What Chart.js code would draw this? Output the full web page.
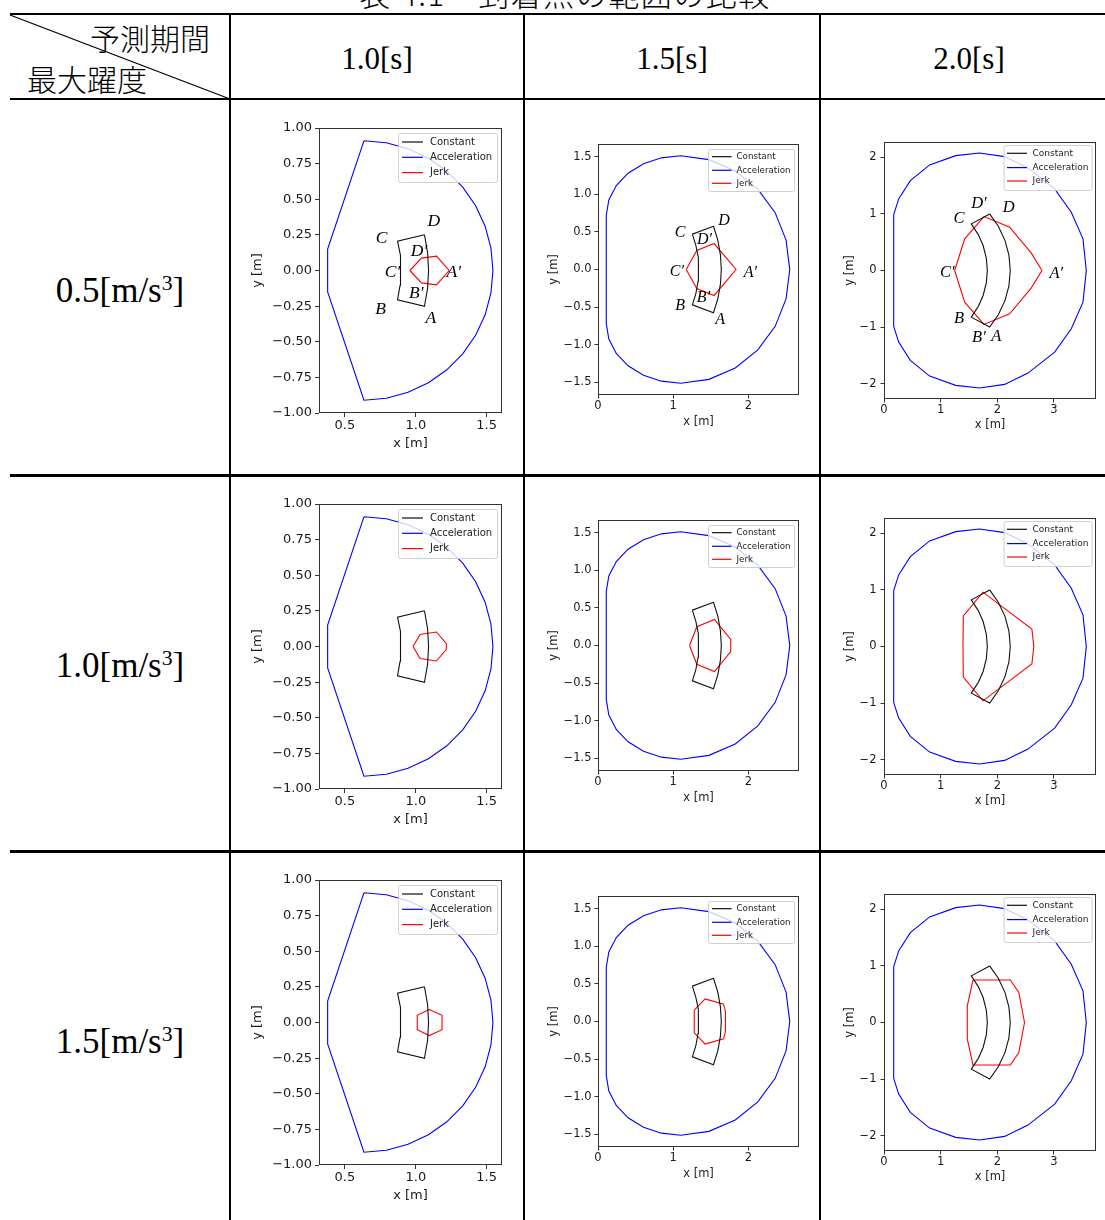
<!DOCTYPE html>
<html>
<head>
<meta charset="utf-8">
<script src="https://cdn.jsdelivr.net/npm/chart.js@4.4.0/dist/chart.umd.min.js"></script>
<style>
  body { margin: 0; width: 1105px; height: 1220px; position: relative; overflow: hidden; background: #fff; font-family: "Liberation Serif", serif; color: #000; }
  .hl { position: absolute; background: #000; }
  .vl { position: absolute; background: #000; width: 2px; top: 14px; height: 1206px; }
  .cell { position: absolute; font-size: 31px; line-height: 1; white-space: nowrap; transform: translate(-50%, -50%); }
  .cjk { position: absolute; font-family: "Noto Sans CJK JP", sans-serif; font-weight: 300; font-size: 30px; line-height: 30px; white-space: nowrap; }
  .sup { font-size: 0.62em; vertical-align: 0.55em; }
  canvas { position: absolute; }
</style>
</head>
<body>
<div class="cjk" style="left:565px; top:-22px; font-size:31px; letter-spacing:1.5px; transform:translateX(-50%);">表 4.1　到着点の範囲の比較</div>

<div class="hl" style="left:10px; top:13px; width:1095px; height:2px;"></div>
<div class="hl" style="left:10px; top:98px; width:1095px; height:2px;"></div>
<div class="hl" style="left:10px; top:474px; width:1095px; height:3px;"></div>
<div class="hl" style="left:10px; top:850px; width:1095px; height:3px;"></div>
<div class="vl" style="left:229px;"></div>
<div class="vl" style="left:523px;"></div>
<div class="vl" style="left:819px;"></div>
<svg style="position:absolute;left:0;top:0" width="240" height="110">
  <line x1="10" y1="15" x2="230" y2="99" stroke="#000" stroke-width="1.3"/>
</svg>
<div class="cjk" style="left:90px; top:22px;">予測期間</div>
<div class="cjk" style="left:27px; top:63px;">最大躍度</div>

<script>
// table headings
const periods = ['1.0[s]', '1.5[s]', '2.0[s]'];
const jerkLimits = ['0.5', '1.0', '1.5'];
const seriesNames = ['Constant', 'Acceleration', 'Jerk'];
const seriesColors = ['#111111', '#0000ff', '#ff0000'];

// axes for each prediction period
const xRange10 = [0.317, 1.608], yRange10 = [-1.0, 1.0];
const xTicks10 = [0.5, 1.0, 1.5];
const xTickLabels10 = ['0.5', '1.0', '1.5'];
const yTicks10 = [-1, -0.75, -0.5, -0.25, 0, 0.25, 0.5, 0.75, 1];
const yTickLabels10 = ['\u22121.00', '\u22120.75', '\u22120.50', '\u22120.25', '0.00', '0.25', '0.50', '0.75', '1.00'];

const xRange15 = [0, 2.673], yRange15 = [-1.667, 1.667];
const xTicks15 = [0, 1, 2];
const xTickLabels15 = ['0', '1', '2'];
const yTicks15 = [-1.5, -1, -0.5, 0, 0.5, 1, 1.5];
const yTickLabels15 = ['\u22121.5', '\u22121.0', '\u22120.5', '0.0', '0.5', '1.0', '1.5'];

const xRange20 = [0, 3.742], yRange20 = [-2.27, 2.27];
const xTicks20 = [0, 1, 2, 3];
const xTickLabels20 = ['0', '1', '2', '3'];
const yTicks20 = [-2, -1, 0, 1, 2];
const yTickLabels20 = ['\u22122', '\u22121', '0', '1', '2'];

// Constant model (same for every jerk limit)
const constT10 = [[1.061,0.251],[1.083,0.126],[1.09,0],[1.083,-0.126],[1.061,-0.251],
  [0.871,-0.206],[0.889,-0.104],[0.895,0],[0.889,0.104],[0.871,0.206],[1.061,0.251]];
const constT15 = [[1.536,0.574],[1.594,0.388],[1.628,0.195],[1.64,0],[1.628,-0.195],[1.594,-0.388],[1.536,-0.574],
  [1.255,-0.469],[1.302,-0.317],[1.33,-0.159],[1.34,0],[1.33,0.159],[1.302,0.317],[1.255,0.469],[1.536,0.574]];
const constT20 = [[1.865,1.0],[2.02,0.778],[2.135,0.532],[2.205,0.27],[2.229,0],[2.205,-0.27],[2.135,-0.532],[2.02,-0.778],[1.865,-1.0],
  [1.541,-0.824],[1.667,-0.63],[1.751,-0.437],[1.806,-0.221],[1.824,0],[1.806,0.221],[1.751,0.437],[1.667,0.63],[1.541,0.824],[1.865,1.0]];

// Acceleration model (same for every jerk limit)
const accelT10 = [[0.634,0.91],[0.378,0.15],[0.378,-0.15],[0.634,-0.91],
  [0.792,-0.896],[0.945,-0.855],[1.089,-0.788],[1.219,-0.697],[1.331,-0.585],[1.422,-0.455],[1.489,-0.311],[1.53,-0.158],
  [1.544,0],[1.53,0.158],[1.489,0.311],[1.422,0.455],[1.331,0.585],[1.219,0.697],[1.089,0.788],[0.945,0.855],[0.792,0.896],[0.634,0.91]];
const accelT15 = [[1.1,1.51],[1.475,1.459],[1.825,1.308],[2.125,1.068],[2.356,0.755],[2.501,0.391],[2.55,0],
  [2.501,-0.391],[2.356,-0.755],[2.125,-1.068],[1.825,-1.308],[1.475,-1.459],[1.1,-1.51],
  [0.844,-1.483],[0.605,-1.404],[0.4,-1.279],[0.243,-1.115],[0.144,-0.924],[0.11,-0.72],
  [0.11,0.72],[0.144,0.924],[0.243,1.115],[0.4,1.279],[0.605,1.404],[0.844,1.483],[1.1,1.51]];
const accelT20 = [[0.171,0.988],[0.259,1.265],[0.465,1.588],[0.806,1.865],[1.265,2.029],[1.688,2.076],[2.129,2.012],
  [2.541,1.812],[3.012,1.441],[3.306,1.029],[3.512,0.559],[3.571,0],[3.512,-0.559],[3.306,-1.029],[3.012,-1.441],
  [2.541,-1.812],[2.129,-2.012],[1.688,-2.076],[1.265,-2.029],[0.806,-1.865],[0.465,-1.588],[0.259,-1.265],[0.171,-0.988],[0.171,0.988]];

// Jerk model, one per max jerk (0.5, 1.0, 1.5)
const jerkT10 = [
  [[0.958,0],[1.04,0.087],[1.146,0.101],[1.235,0],[1.146,-0.101],[1.04,-0.087],[0.958,0]],
  [[0.98,0],[1.03,0.085],[1.145,0.102],[1.215,0.022],[1.215,-0.022],[1.145,-0.102],[1.03,-0.085],[0.98,0]],
  [[1.095,0.092],[1.185,0.05],[1.185,-0.05],[1.095,-0.092],[1.01,-0.05],[1.01,0.05],[1.095,0.092]]
];
const jerkT15 = [
  [[1.173,0],[1.314,0.252],[1.544,0.345],[1.836,0],[1.544,-0.345],[1.314,-0.252],[1.173,0]],
  [[1.217,0],[1.314,0.25],[1.549,0.345],[1.765,0.08],[1.765,-0.08],[1.549,-0.345],[1.314,-0.25],[1.217,0]],
  [[1.28,0.15],[1.425,0.3],[1.67,0.23],[1.695,0.13],[1.695,-0.13],[1.67,-0.23],[1.425,-0.3],[1.28,-0.15],[1.28,0.15]]
];
const jerkT20 = [
  [[1.247,0],[1.424,0.559],[1.765,0.953],[2.218,0.765],[2.6,0.306],[2.788,0],[2.6,-0.306],[2.218,-0.765],[1.765,-0.953],[1.424,-0.559],[1.247,0]],
  [[1.394,0],[1.4,0.54],[1.747,0.96],[2.61,0.31],[2.645,0],[2.61,-0.31],[1.747,-0.96],[1.4,-0.54],[1.394,0]],
  [[1.57,0.75],[2.23,0.75],[2.38,0.53],[2.48,0],[2.38,-0.53],[2.23,-0.75],[1.57,-0.75],[1.47,-0.29],[1.47,0.29],[1.57,0.75]]
];

// corner names, shown for max jerk 0.5 only
const lettersT10 = [['D',1.127,0.345],['C',0.758,0.223],['D\u2032',1.023,0.136],['C\u2032',0.836,-0.01],
  ['A\u2032',1.268,-0.01],['B\u2032',1.003,-0.16],['B',0.751,-0.275],['A',1.106,-0.336]];
const lettersT15 = [['D',1.677,0.65],['C',1.093,0.487],['D\u2032',1.416,0.389],['C\u2032',1.049,-0.031],
  ['A\u2032',2.027,-0.044],['B\u2032',1.403,-0.376],['B',1.093,-0.487],['A',1.624,-0.673]];
const lettersT20 = [['D\u2032',1.676,1.188],['D',2.2,1.118],['C',1.324,0.912],['C\u2032',1.118,-0.03],
  ['A\u2032',3.041,-0.06],['B',1.324,-0.853],['B\u2032',1.676,-1.188],['A',1.982,-1.176]];

const panels = [
  { xRange: xRange10, yRange: yRange10, xTicks: xTicks10, xLabels: xTickLabels10, yTicks: yTicks10, yLabels: yTickLabels10,
    constant: constT10, accel: accelT10, jerk: jerkT10, letters: lettersT10 },
  { xRange: xRange15, yRange: yRange15, xTicks: xTicks15, xLabels: xTickLabels15, yTicks: yTicks15, yLabels: yTickLabels15,
    constant: constT15, accel: accelT15, jerk: jerkT15, letters: lettersT15 },
  { xRange: xRange20, yRange: yRange20, xTicks: xTicks20, xLabels: xTickLabels20, yTicks: yTicks20, yLabels: yTickLabels20,
    constant: constT20, accel: accelT20, jerk: jerkT20, letters: lettersT20 }
];

// where each column's plot sits on the page
const cols = [
  { plotL: 319, plotT: 128, plotW: 183, plotH: 285, yAxisW: 69, xAxisH: 38, font: 13, tick: 4, yPad: 3, letterFont: 17.5,
    legend: { w: 99, h: 49, right: 5, top: 5, font: 10, l0: 4, l1: 25, tx: 32, rows: [9, 24.3, 39.6] } },
  { plotL: 598, plotT: 144, plotW: 201, plotH: 251, yAxisW: 51, xAxisH: 34, font: 11.5, tick: 3.5, yPad: 3, letterFont: 16,
    legend: { w: 86, h: 42, right: 5, top: 5, font: 8.7, l0: 4, l1: 23.5, tx: 28.5, rows: [7.7, 21.3, 34.3] } },
  { plotL: 884, plotT: 142, plotW: 212, plotH: 257, yAxisW: 41, xAxisH: 33, font: 11.5, tick: 3.5, yPad: 4, letterFont: 16.5,
    legend: { w: 88, h: 45, right: 4.5, top: 3, font: 9, l0: 3.5, l1: 23.5, tx: 29, rows: [8.3, 22.6, 36] } }
];
const rowOffsets = [0, 376, 752];
const padTop = 12, padRight = 6;

// headings
const colCenters = [377, 672, 969];
periods.forEach((p, i) => {
  const d = document.createElement('div');
  d.className = 'cell'; d.textContent = p;
  d.style.left = colCenters[i] + 'px'; d.style.top = '58px';
  document.body.appendChild(d);
});
const rowCenters = [290, 665, 1041];
jerkLimits.forEach((j, i) => {
  const d = document.createElement('div');
  d.className = 'cell'; d.style.fontSize = '35px';
  d.innerHTML = j + '[m/s<span class="sup">3</span>]';
  d.style.left = '120px'; d.style.top = rowCenters[i] + 'px';
  document.body.appendChild(d);
});

// frame, legend box and corner names
const decorPlugin = {
  id: 'decor',
  afterDatasetsDraw(chart, args, opts) {
    const { ctx, chartArea: a, scales: { x, y } } = chart;
    ctx.save();
    ctx.strokeStyle = '#333'; ctx.lineWidth = 1;
    ctx.strokeRect(a.left + 0.5, a.top + 0.5, a.right - a.left - 1, a.bottom - a.top - 1);

    if (opts.letters) {
      ctx.fillStyle = '#000';
      ctx.font = 'italic ' + opts.letterFont + 'px "Liberation Serif"';
      ctx.textAlign = 'center'; ctx.textBaseline = 'middle';
      opts.letters.forEach(l => ctx.fillText(l[0], x.getPixelForValue(l[1]), y.getPixelForValue(l[2])));
    }

    const lg = opts.legend;
    const bx = a.right - lg.right - lg.w, by = a.top + lg.top;
    ctx.beginPath();
    if (ctx.roundRect) ctx.roundRect(bx + 0.5, by + 0.5, lg.w, lg.h, 2); else ctx.rect(bx + 0.5, by + 0.5, lg.w, lg.h);
    ctx.fillStyle = 'rgba(255,255,255,0.8)'; ctx.fill();
    ctx.strokeStyle = '#d0d0d0'; ctx.lineWidth = 1; ctx.stroke();
    ctx.font = lg.font + 'px "DejaVu Sans"';
    ctx.textAlign = 'left'; ctx.textBaseline = 'middle';
    chart.data.datasets.forEach((ds, i) => {
      const ry = by + lg.rows[i];
      ctx.strokeStyle = ds.borderColor; ctx.lineWidth = 1.2;
      ctx.beginPath(); ctx.moveTo(bx + lg.l0, ry); ctx.lineTo(bx + lg.l1, ry); ctx.stroke();
      ctx.fillStyle = '#222';
      ctx.fillText(ds.label, bx + lg.tx, ry);
    });
    ctx.restore();
  }
};

function toPoints(list) { return list.map(p => ({ x: p[0], y: p[1] })); }

function axis(range, ticks, labels, c, isX, titleText) {
  const font = { family: 'DejaVu Sans', size: c.font };
  return {
    type: 'linear', min: range[0], max: range[1],
    afterBuildTicks: s => { s.ticks = ticks.map(v => ({ value: v })); },
    afterFit: s => { if (isX) s.height = c.xAxisH; else s.width = c.yAxisW; },
    ticks: { callback: (v, i) => labels[i], font, color: '#1a1a1a', padding: isX ? 1 : c.yPad, maxRotation: 0, autoSkip: false },
    title: { display: true, text: titleText, font, color: '#1a1a1a', padding: 0 },
    grid: { display: true, drawOnChartArea: false, drawTicks: true, tickLength: c.tick, tickColor: '#333', lineWidth: 1 },
    border: { display: false }
  };
}

panels.forEach((pn, ci) => {
  const c = cols[ci];
  rowOffsets.forEach((off, ri) => {
    const canvas = document.createElement('canvas');
    const w = c.yAxisW + c.plotW + padRight;
    const h = padTop + c.plotH + c.xAxisH;
    canvas.width = w; canvas.height = h;
    canvas.style.left = (c.plotL - c.yAxisW) + 'px';
    canvas.style.top = (c.plotT + off - padTop) + 'px';
    canvas.style.width = w + 'px'; canvas.style.height = h + 'px';
    document.body.appendChild(canvas);

    const sources = [pn.constant, pn.accel, pn.jerk[ri]];
    new Chart(canvas, {
      type: 'scatter',
      data: {
        datasets: sources.map((src, i) => ({
          label: seriesNames[i], data: toPoints(src), showLine: true, fill: false,
          borderColor: seriesColors[i], borderWidth: 1.1, pointRadius: 0, tension: 0
        }))
      },
      options: {
        responsive: false, animation: false, events: [], devicePixelRatio: 1,
        layout: { padding: { top: padTop, right: padRight, left: 0, bottom: 0 } },
        plugins: {
          legend: { display: false }, tooltip: { enabled: false },
          decor: { legend: c.legend, letters: ri === 0 ? pn.letters : null, letterFont: c.letterFont }
        },
        scales: {
          x: axis(pn.xRange, pn.xTicks, pn.xLabels, c, true, 'x [m]'),
          y: axis(pn.yRange, pn.yTicks, pn.yLabels, c, false, 'y [m]')
        }
      },
      plugins: [decorPlugin]
    });
  });
});
</script>
</body>
</html>
